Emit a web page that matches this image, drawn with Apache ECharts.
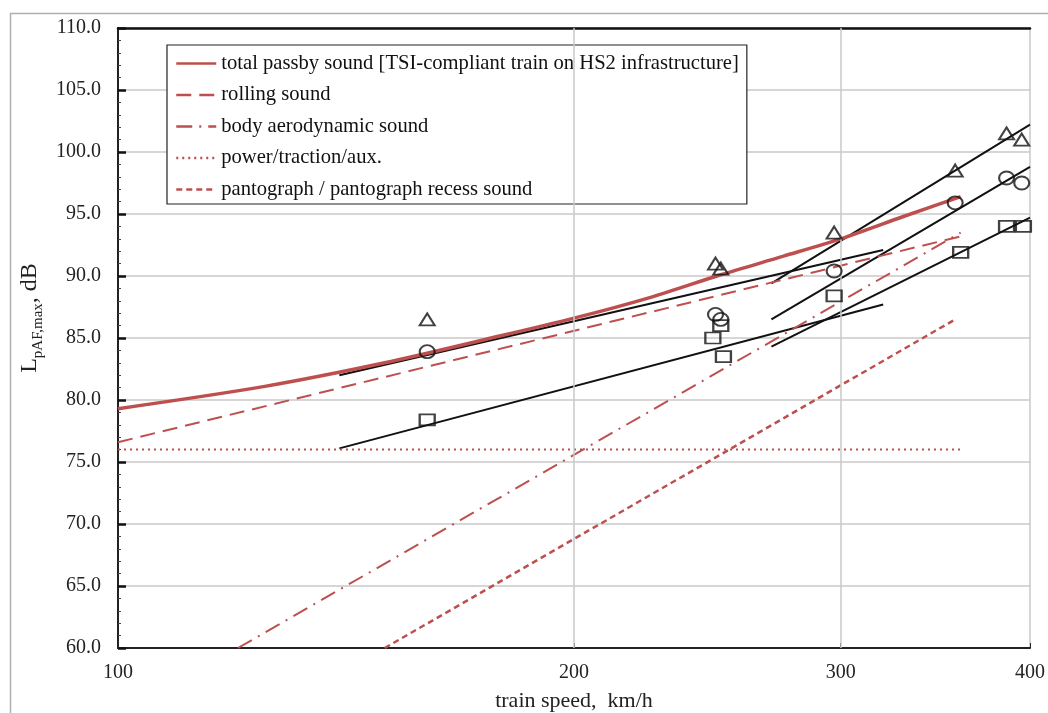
<!DOCTYPE html>
<html>
<head>
<meta charset="utf-8">
<script src="https://cdn.jsdelivr.net/npm/echarts@6/dist/echarts.min.js"></script>
<style>
html,body{margin:0;padding:0;background:#fff}
#main{width:1048px;height:713px}
</style>
</head>
<body>
<div id="main"></div>
<script>
// model curves (red)
var speedTotal = [100, 125, 150, 175, 200, 225, 250, 275, 300, 330, 360];
var levelTotal = [79.3, 81.1, 83.0, 84.9, 86.6, 88.3, 90.1, 91.6, 93.0, 94.8, 96.4];
var speedRolling = [100, 360];
var levelRolling = [76.6, 93.2];
var speedAero = [120, 360];
var levelAero = [60.0, 93.5];
var speedTraction = [100, 360];
var levelTraction = [76.0, 76.0];
var speedPanto = [150, 357];
var levelPanto = [60.0, 86.5];

// measured points
var speedTri = [160, 248, 250, 297, 357, 386, 395];
var levelTri = [86.5, 91.0, 90.6, 93.5, 98.5, 101.5, 101.0];
var speedCirc = [160, 248, 250, 297, 357, 386, 395];
var levelCirc = [83.9, 86.9, 86.5, 90.4, 95.9, 97.9, 97.5];
var speedSq = [160, 247, 250, 251, 297, 360, 386, 396];
var levelSq = [78.4, 85.0, 86.0, 83.5, 88.4, 91.9, 94.0, 94.0];

// regression lines (black)
var speedFitLow = [140, 320];
var levelFitLowUpper = [82.0, 92.1];
var levelFitLowSq = [76.1, 87.7];
var speedFitHigh = [270, 400];
var levelFitHighTri = [89.4, 102.2];
var levelFitHighCirc = [86.5, 98.8];
var levelFitHighSq = [84.3, 94.7];

var xTicks = [100, 200, 300, 400];
var yMin = 60, yMax = 110, yStep = 5;

var names = [
    'total passby sound [TSI-compliant train on HS2 infrastructure]',
    'rolling sound',
    'body aerodynamic sound',
    'power/traction/aux.',
    'pantograph / pantograph recess sound'
];

function zip(xs, ys){
    var out = [];
    for (var i = 0; i < xs.length; i++) out.push([xs[i], ys[i]]);
    return out;
}

var RED = '#bd504e';
var FONT = 'Liberation Serif';

var myChart = echarts.init(document.getElementById('main'));

function redLine(name, xs, ys, width, type, smooth){
    return {
        name: name, type: 'line', data: zip(xs, ys),
        symbol: 'none', smooth: smooth || false, z: 4,
        lineStyle: {color: RED, width: width, type: type},
        itemStyle: {color: RED}
    };
}
function blackLine(xs, ys){
    return {
        type: 'line', data: zip(xs, ys), symbol: 'none', z: 3,
        lineStyle: {color: '#111', width: 2}, silent: true
    };
}
function marks(symbol, size, xs, ys){
    return {
        type: 'scatter', data: zip(xs, ys), symbol: symbol, symbolSize: size, z: 5,
        itemStyle: {color: 'rgba(0,0,0,0)', borderColor: '#111', borderWidth: 2}
    };
}

var option = {
    backgroundColor: '#fff',
    animation: false,
    textStyle: {fontFamily: FONT},
    graphic: [{
        type: 'rect', left: 8, top: 11,
        shape: {width: 1080, height: 760},
        style: {fill: 'none', stroke: '#b0b0b0', lineWidth: 1.5},
        silent: true
    }],
    grid: {left: 118, right: 18, top: 28, bottom: 65, outerBoundsMode: 'none'},
    legend: {
        data: names,
        orient: 'vertical',
        left: 167, top: 45,
        backgroundColor: '#fff',
        borderColor: '#222', borderWidth: 1.2,
        padding: [8, 8, 4, 8],
        itemWidth: 40, itemHeight: 14, itemGap: 10.5,
        itemStyle: {opacity: 0},
        lineStyle: {width: 2.5},
        textStyle: {fontFamily: FONT, fontSize: 20.6, color: '#111'}
    },
    xAxis: [{
        type: 'log', logBase: 10, min: 100, max: 400,
        name: 'train speed,  km/h', nameLocation: 'middle', nameGap: 42,
        nameTextStyle: {fontFamily: FONT, fontSize: 22, color: '#222'},
        axisLine: {show: true, lineStyle: {color: '#222', width: 2}},
        axisTick: {show: true, inside: true, length: 5, customValues: xTicks, lineStyle: {color: '#222'}},
        axisLabel: {customValues: xTicks, fontFamily: FONT, fontSize: 20, color: '#222', margin: 15},
        splitLine: {show: false}
    }, {
        type: 'log', logBase: 10, min: 100, max: 400, position: 'top',
        axisLine: {show: true, lineStyle: {color: '#111', width: 2.5}},
        axisTick: {show: false}, axisLabel: {show: false}, splitLine: {show: false}
    }],
    yAxis: [{
        type: 'value', min: yMin, max: yMax, interval: yStep,
        name: '{a|L}{s|pAF,max}{a|, dB}', nameLocation: 'middle', nameGap: 72, nameRotate: 90,
        nameTextStyle: {
            padding: [0, 0, 0, 40],
            rich: {
                a: {fontFamily: FONT, fontSize: 24, color: '#222', lineHeight: 30},
                s: {fontFamily: FONT, fontSize: 15, color: '#222', lineHeight: 30, verticalAlign: 'bottom'}
            }
        },
        axisLine: {show: true, lineStyle: {color: '#222', width: 2}},
        axisTick: {show: true, inside: true, length: 8, lineStyle: {color: '#111', width: 2.5}},
        minorTick: {show: true, splitNumber: 5, length: 3, lineStyle: {color: '#444'}},
        axisLabel: {
            fontFamily: FONT, fontSize: 20, color: '#222', margin: 17,
            formatter: function(v){ return v.toFixed(1); }
        },
        splitLine: {show: true, lineStyle: {color: '#c8c8c8', width: 1.5}}
    }, {
        type: 'value', min: yMin, max: yMax, position: 'right',
        axisLine: {show: true, lineStyle: {color: '#c8c8c8', width: 1.5}},
        axisTick: {show: false}, axisLabel: {show: false}, splitLine: {show: false}
    }],
    series: [
        {
            type: 'line', data: [], silent: true,
            markLine: {
                symbol: 'none', silent: true, label: {show: false},
                lineStyle: {color: '#c8c8c8', width: 1.5, type: 'solid'},
                data: [{xAxis: xTicks[1]}, {xAxis: xTicks[2]}]
            }
        },
        blackLine(speedFitLow, levelFitLowUpper),
        blackLine(speedFitLow, levelFitLowSq),
        blackLine(speedFitHigh, levelFitHighTri),
        blackLine(speedFitHigh, levelFitHighCirc),
        blackLine(speedFitHigh, levelFitHighSq),
        marks('triangle', [15, 12], speedTri, levelTri),
        marks('circle', [15, 13], speedCirc, levelCirc),
        marks('rect', [15, 11], speedSq, levelSq),
        redLine(names[0], speedTotal, levelTotal, 3.5, 'solid', 0.3),
        redLine(names[1], speedRolling, levelRolling, 2, [15, 8]),
        redLine(names[2], speedAero, levelAero, 2, [16, 7, 2, 7]),
        redLine(names[3], speedTraction, levelTraction, 2, [2, 4]),
        redLine(names[4], speedPanto, levelPanto, 2.5, [6, 4])
    ]
};
myChart.setOption(option);
</script>
</body>
</html>
